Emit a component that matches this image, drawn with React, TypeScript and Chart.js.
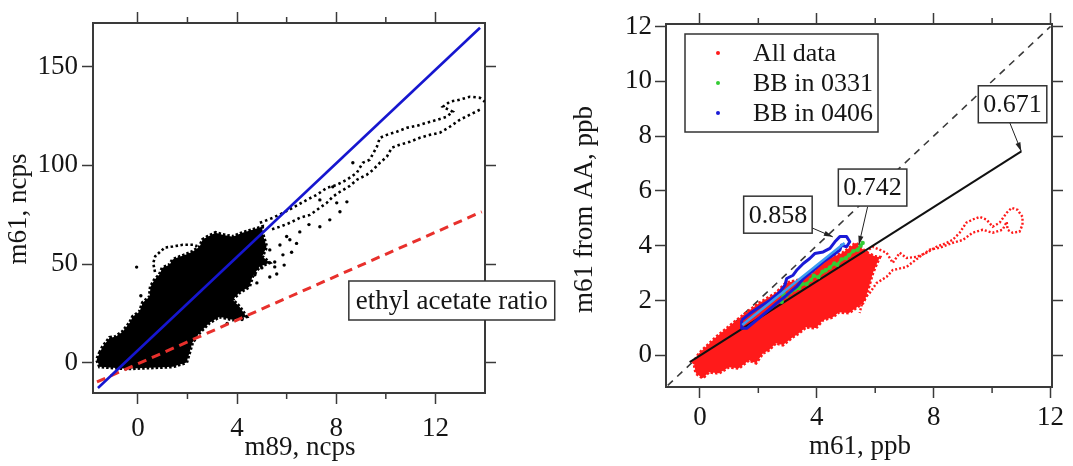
import React, { useEffect, useRef } from 'react';
import { Chart, registerables } from 'chart.js';
Chart.register(...registerables);

// ================= LEFT PANEL DATA =================
const leftXMajor = [0, 4, 8, 12];
const leftXMinor = [2, 6, 10];
const leftYMajor = [0, 50, 100, 150];
const leftXRange = [-1.81, 14.0];
const leftYRange = [-15.2, 172];

// dense black cloud (outline of the saturated region)
const blobX = [-1.54, -1.42, -1.14, -0.90, -0.62, -0.33, -0.21, 0.07, 0.19, 0.47, 0.51, 0.67, 0.87, 0.99, 1.28, 1.40, 1.60, 1.92, 2.20, 2.49, 2.61, 2.81, 3.13, 3.41, 3.82, 4.22, 4.62, 5.02, 5.02, 5.19, 5.02, 5.31, 4.91, 4.62, 4.50, 4.10, 3.82, 4.10, 4.38, 3.82, 3.29, 2.89, 2.49, 2.20, 2.08, 1.96, 1.40, 0.47, -0.46, -1.54, -1.66, -1.54];
const blobY = [5.2, 8.2, 12.8, 13.3, 15.8, 20.4, 23.4, 26.0, 30.5, 33.5, 38.6, 42.1, 44.7, 48.2, 49.7, 52.3, 53.3, 54.8, 56.3, 58.8, 62.4, 63.9, 65.9, 64.9, 63.9, 65.9, 67.4, 68.9, 65.9, 58.8, 53.8, 50.7, 48.7, 43.7, 38.6, 35.6, 32.0, 28.5, 23.4, 21.9, 23.4, 20.4, 15.3, 10.3, 5.2, 0.2, -1.9, -2.4, -2.9, -1.9, 1.7, 5.2];

// sparse dotted trails
const upperTrailX = [4.92, 5.44, 5.85, 6.25, 6.81, 7.22, 7.62, 8.02, 8.43, 8.83, 9.07, 9.35, 9.64, 9.76, 10.04, 10.44, 10.85, 11.25, 11.65, 12.06, 12.46, 12.70, 12.30, 12.58, 12.98, 13.39, 13.79, 13.99];
const upperTrailY = [70.9, 73.4, 75.9, 78.5, 82.5, 85.1, 88.6, 90.1, 92.7, 96.2, 101.3, 102.8, 109.4, 113.9, 115.4, 117.0, 119.0, 120.0, 121.5, 123.0, 124.6, 127.1, 129.6, 132.2, 133.2, 134.7, 134.2, 132.2];
const lowerTrailX = [13.79, 13.39, 12.98, 12.58, 12.18, 11.77, 11.37, 10.97, 10.56, 10.24, 10.04, 9.76, 9.48, 9.23, 8.83, 8.55, 8.15, 7.86, 7.62, 7.34, 6.94, 6.53, 6.13, 5.73, 5.32];
const lowerTrailY = [128.1, 125.6, 123.0, 119.5, 116.5, 115.4, 113.9, 111.9, 110.4, 108.9, 104.3, 101.3, 97.7, 95.2, 92.7, 89.6, 86.6, 84.1, 81.0, 78.5, 74.9, 73.4, 70.9, 68.9, 67.3];
const loopTrailX = [0.69, 0.62, 0.70, 0.93, 1.09, 1.41, 1.81, 2.22, 2.40];
const loopTrailY = [46.0, 50.5, 54.0, 56.6, 58.4, 58.9, 59.8, 59.8, 59.0];
const scatterX = [8.43, 8.15, 7.74, 7.34, 6.53, 6.13, 5.73, 5.85, 5.52, 5.32, 5.0, 4.72, 5.52, 5.32, 7.34, 7.86, 8.67, 8.02, 6.0, 6.4, 6.9, 5.9, 6.2, 5.6, 4.8, 3.6, 4.2, 0.12, -0.05, 1.3];
const scatterY = [81.5, 76.5, 72.4, 68.9, 66.3, 62.3, 59.7, 54.7, 51.1, 57.2, 48.1, 44.6, 48.6, 43.5, 82.5, 89.1, 101.3, 81.0, 64.0, 60.5, 70.0, 49.5, 56.0, 45.0, 40.5, 20.0, 22.0, 34.0, 48.5, 44.0];

const fitLineX = [-1.61, 13.8];
const fitLineY = [-12.7, 169.6];
const ratioLineX = [-1.65, 13.87];
const ratioLineY = [-9.6, 76.5];

const leftBoxText = 'ethyl acetate ratio';
const leftBoxX = 12.66;
const leftBoxY = 31.6;

// ================= RIGHT PANEL DATA =================
const rightXMajor = [0, 4, 8, 12];
const rightXMinor = [2, 6, 10];
const rightYMajor = [0, 2, 4, 6, 8, 10, 12];
const rightXRange = [-1.16, 12.05];
const rightYRange = [-1.16, 12.09];

const redBlobX = [-0.25, -0.03, 0.55, 1.13, 1.57, 2.02, 2.6, 2.94, 3.38, 3.86, 4.31, 4.89, 5.33, 5.68, 6.0, 6.16, 6.06, 5.92, 5.82, 5.68, 5.58, 5.34, 5.10, 4.76, 4.55, 4.21, 3.97, 3.63, 3.39, 3.18, 2.84, 2.60, 2.36, 2.16, 1.92, 1.68, 1.33, 0.99, 0.65, 0.31, 0.10, -0.14, -0.21, -0.25];
const redBlobY = [-0.3, 0.07, 0.66, 1.17, 1.54, 1.9, 2.27, 2.64, 2.75, 3.0, 3.48, 3.74, 4.1, 3.77, 3.6, 3.58, 3.36, 3.0, 2.63, 2.12, 1.90, 1.72, 1.54, 1.57, 1.39, 1.28, 0.99, 1.02, 0.80, 0.66, 0.37, 0.44, 0.18, 0.07, -0.29, -0.18, -0.48, -0.44, -0.66, -0.62, -0.84, -0.66, -0.26, -0.3];
const redTrailX = [5.37, 5.91, 6.39, 6.6, 6.84, 7.07, 7.42, 7.76, 8.1, 8.44, 8.65, 8.89, 9.12, 9.33, 9.57, 9.81, 10.02, 10.26, 10.5, 10.67, 10.87, 11.04, 11.04, 10.94, 10.7, 10.53, 10.5, 10.36, 10.02, 9.68, 9.33, 9.0, 8.65, 8.2, 7.86, 7.52, 7.07, 6.6, 6.39, 6.05, 5.81, 5.57, 5.47];
const redTrailY = [3.48, 3.96, 3.74, 3.37, 3.74, 3.55, 3.59, 3.74, 3.96, 4.1, 4.21, 4.47, 4.84, 4.95, 5.05, 4.95, 4.69, 4.84, 5.2, 5.38, 5.31, 5.05, 4.76, 4.51, 4.47, 4.58, 4.87, 4.58, 4.47, 4.58, 4.47, 4.21, 4.1, 3.92, 3.85, 3.59, 3.22, 3.11, 2.86, 2.64, 2.27, 2.01, 1.54];

const blueX = [1.43, 1.71, 2.05, 2.40, 2.74, 2.91, 2.97, 3.19, 3.31, 3.54, 3.76, 3.93, 4.22, 4.45, 4.62, 4.79, 5.02, 5.13, 5.02, 4.85, 4.79, 4.56, 4.22, 3.88, 3.54, 3.31, 2.97, 2.62, 2.28, 1.94, 1.60, 1.43, 1.43];
const blueY = [1.28, 1.52, 1.77, 2.01, 2.31, 2.56, 2.80, 2.92, 3.10, 3.35, 3.53, 3.71, 3.77, 3.90, 4.14, 4.33, 4.33, 4.14, 3.96, 4.02, 3.84, 3.66, 3.41, 3.10, 2.80, 2.50, 2.19, 1.89, 1.58, 1.28, 0.98, 0.98, 1.28];
const greenX = [2.8, 2.85, 2.95, 3.1, 3.25, 3.4, 3.5, 3.65, 3.8, 3.9, 4.05, 4.2, 4.3, 4.45, 4.6, 4.7, 4.85, 5.0, 5.1, 5.25, 5.4, 5.5, 5.57];
const greenY = [1.95, 2.3, 2.15, 2.3, 2.4, 2.45, 2.6, 2.6, 2.75, 2.9, 2.85, 3.05, 3.1, 3.2, 3.35, 3.3, 3.5, 3.55, 3.65, 3.8, 3.85, 4.0, 4.1];

const fitAllX = [-0.35, 11.0];
const fitAllY = [-0.25, 7.44];
const fit0406X = [1.45, 4.95];
const fit0406Y = [1.1, 4.1];
const oneToOneX = [-1.1, 12.0];
const oneToOneY = [-1.1, 12.0];

const legendLabels = ['All data', 'BB in 0331', 'BB in 0406'];
const legendColors = ['#ff1a1a', '#33cc33', '#1a1ad6'];

const slopeLabels = ['0.671', '0.742', '0.858'];
const slopeBoxX = [10.7, 5.91, 2.67];
const slopeBoxY = [9.16, 6.12, 5.13];
const slopeArrowFromX = [10.6, 5.74, 3.83];
const slopeArrowFromY = [8.5, 5.42, 4.65];
const slopeArrowToX = [11.0, 5.44, 4.55];
const slopeArrowToY = [7.44, 4.03, 4.32];

// ================= HELPERS =================
const FONT = "'Liberation Serif', 'Times New Roman', serif";
const AXIS = '#3a3a3a';
const TXT = '#151515';

const pts = (xs: number[], ys: number[]) => xs.map((x, i) => ({ x, y: ys[i] }));

function makeScale(position: string, range: number[], majors: number[], size: number, labels: boolean, pad: number) {
  return {
    type: 'linear',
    position,
    min: range[0],
    max: range[1],
    afterBuildTicks: (s: any) => { s.ticks = majors.map((v) => ({ value: v })); },
    afterFit: (s: any) => { if (position === 'top' || position === 'bottom') s.height = size; else s.width = size; },
    grid: { drawOnChartArea: false, drawTicks: true, tickLength: 11, tickWidth: 1.5, tickColor: AXIS },
    border: { display: true, color: AXIS, width: 2 },
    ticks: {
      font: { family: FONT, size: 27 },
      color: TXT,
      padding: pad,
      maxRotation: 0,
      autoSkip: false,
      callback: (v: any) => (labels ? String(v) : ''),
    },
  };
}

function arrow(ctx: CanvasRenderingContext2D, x1: number, y1: number, x2: number, y2: number) {
  ctx.save();
  ctx.strokeStyle = '#222';
  ctx.fillStyle = '#222';
  ctx.lineWidth = 1;
  ctx.beginPath(); ctx.moveTo(x1, y1); ctx.lineTo(x2, y2); ctx.stroke();
  const a = Math.atan2(y2 - y1, x2 - x1);
  const L = 9, W = 2.6;
  ctx.beginPath();
  ctx.moveTo(x2, y2);
  ctx.lineTo(x2 - L * Math.cos(a) + W * Math.sin(a), y2 - L * Math.sin(a) - W * Math.cos(a));
  ctx.lineTo(x2 - L * Math.cos(a) - W * Math.sin(a), y2 - L * Math.sin(a) + W * Math.cos(a));
  ctx.closePath(); ctx.fill();
  ctx.restore();
}

function labelBox(ctx: CanvasRenderingContext2D, text: string, cx: number, cy: number, size: number, padX: number, h: number) {
  ctx.save();
  ctx.font = `${size}px ${FONT}`;
  const w = ctx.measureText(text).width + 2 * padX;
  ctx.fillStyle = '#fff';
  ctx.fillRect(cx - w / 2, cy - h / 2, w, h);
  ctx.strokeStyle = '#333';
  ctx.lineWidth = 1.5;
  ctx.strokeRect(cx - w / 2, cy - h / 2, w, h);
  ctx.fillStyle = TXT;
  ctx.textAlign = 'center';
  ctx.textBaseline = 'middle';
  ctx.fillText(text, cx, cy + 1);
  ctx.restore();
}

function drawMinor(chart: any, xMinor: number[]) {
  const ctx = chart.ctx as CanvasRenderingContext2D;
  const ca = chart.chartArea;
  const sx = chart.scales.x;
  ctx.save();
  ctx.strokeStyle = AXIS;
  ctx.lineWidth = 1.5;
  xMinor.forEach((v) => {
    const px = sx.getPixelForValue(v);
    ctx.beginPath(); ctx.moveTo(px, ca.bottom); ctx.lineTo(px, ca.bottom + 6); ctx.stroke();
    ctx.beginPath(); ctx.moveTo(px, ca.top); ctx.lineTo(px, ca.top - 6); ctx.stroke();
  });
  ctx.restore();
}

function drawTitle(ctx: CanvasRenderingContext2D, text: string, x: number, y: number, rot: boolean) {
  ctx.save();
  ctx.font = `27px ${FONT}`;
  ctx.fillStyle = TXT;
  ctx.textAlign = 'center';
  ctx.textBaseline = 'middle';
  ctx.translate(x, y);
  if (rot) ctx.rotate(-Math.PI / 2);
  ctx.fillText(text, 0, 0);
  ctx.restore();
}

const baseOptions = {
  responsive: false,
  animation: false,
  events: [],
  layout: { padding: 0 },
  plugins: { legend: { display: false }, tooltip: { enabled: false }, title: { display: false } },
};

const dotted = (c: string, w: number, dash: number[]) => ({ showLine: true, fill: false, borderColor: c, borderWidth: w, borderDash: dash, pointRadius: 0 });

// ================= LEFT CHART =================
// NB: Chart.js paints dataset 0 last (on top), so datasets are listed top-first.
function leftConfig(): any {
  const decor = {
    id: 'leftDecor',
    afterDraw(chart: any) {
      const ctx = chart.ctx as CanvasRenderingContext2D;
      const ca = chart.chartArea;
      drawMinor(chart, leftXMinor);
      const sx = chart.scales.x, sy = chart.scales.y;
      labelBox(ctx, leftBoxText, sx.getPixelForValue(leftBoxX), sy.getPixelForValue(leftBoxY), 27, 7, 39);
      drawTitle(ctx, 'm89, ncps', (ca.left + ca.right) / 2 + 11, ca.bottom + 55, false);
      drawTitle(ctx, 'm61, ncps', ca.left - 74, (ca.top + ca.bottom) / 2 + 1, true);
    },
  };
  return {
    type: 'scatter',
    data: {
      datasets: [
        { data: pts(fitLineX, fitLineY), showLine: true, fill: false, borderColor: '#1616cf', borderWidth: 2.6, pointRadius: 0 },
        { data: pts(ratioLineX, ratioLineY), ...dotted('#e8302c', 3, [9, 6]) },
        { data: pts(scatterX, scatterY), showLine: false, pointRadius: 1.7, pointBackgroundColor: '#000', pointBorderWidth: 0 },
        { data: pts(loopTrailX, loopTrailY), ...dotted('#000', 2.6, [2.5, 2.5]) },
        { data: pts(upperTrailX, upperTrailY), ...dotted('#000', 2.6, [2.5, 3]) },
        { data: pts(lowerTrailX, lowerTrailY), ...dotted('#000', 2.6, [2.5, 3]) },
        { data: pts(blobX, blobY), showLine: true, fill: 'shape', backgroundColor: '#000', borderColor: '#000', borderWidth: 3.5, borderDash: [2.5, 2], pointRadius: 0, tension: 0 },
      ],
    },
    options: {
      ...baseOptions,
      scales: {
        x: makeScale('bottom', leftXRange, leftXMajor, 73, true, 9),
        xTop: makeScale('top', leftXRange, leftXMajor, 23, false, 0),
        y: makeScale('left', leftYRange, leftYMajor, 93, true, 4),
        yRight: makeScale('right', leftYRange, leftYMajor, 85, false, 0),
      },
    },
    plugins: [decor],
  };
}

// ================= RIGHT CHART =================
function rightConfig(): any {
  const decor = {
    id: 'rightDecor',
    afterDraw(chart: any) {
      const ctx = chart.ctx as CanvasRenderingContext2D;
      const ca = chart.chartArea;
      drawMinor(chart, rightXMinor);
      const sx = chart.scales.x, sy = chart.scales.y;
      slopeLabels.forEach((t, i) => {
        arrow(ctx, sx.getPixelForValue(slopeArrowFromX[i]), sy.getPixelForValue(slopeArrowFromY[i]), sx.getPixelForValue(slopeArrowToX[i]), sy.getPixelForValue(slopeArrowToY[i]));
      });
      slopeLabels.forEach((t, i) => {
        labelBox(ctx, t, sx.getPixelForValue(slopeBoxX[i]), sy.getPixelForValue(slopeBoxY[i]), 26, 5, 37);
      });
      ctx.save();
      const lx = ca.left + 19, ly = ca.top + 10;
      ctx.fillStyle = '#fff';
      ctx.fillRect(lx, ly, 193, 98);
      ctx.strokeStyle = '#333';
      ctx.lineWidth = 1.5;
      ctx.strokeRect(lx, ly, 193, 98);
      ctx.font = `26px ${FONT}`;
      ctx.textBaseline = 'middle';
      ctx.textAlign = 'left';
      legendLabels.forEach((lab, i) => {
        const yy = ly + 19 + i * 30;
        ctx.fillStyle = legendColors[i];
        ctx.beginPath(); ctx.arc(lx + 33, yy, 2, 0, Math.PI * 2); ctx.fill();
        ctx.fillStyle = TXT;
        ctx.fillText(lab, lx + 68, yy + 1);
      });
      ctx.restore();
      drawTitle(ctx, 'm61, ppb', (ca.left + ca.right) / 2 + 1, ca.bottom + 60, false);
      drawTitle(ctx, 'm61 from AA, ppb', ca.left - 81, (ca.top + ca.bottom) / 2 + 4, true);
    },
  };
  return {
    type: 'scatter',
    data: {
      datasets: [
        { data: pts(fit0406X, fit0406Y), showLine: true, fill: false, borderColor: '#3d9cf0', borderWidth: 2.6, pointRadius: 0 },
        { data: pts(blueX, blueY), showLine: true, fill: false, borderColor: '#1a1ad6', borderWidth: 3, pointRadius: 0, borderJoinStyle: 'round' },
        { data: pts(greenX, greenY), showLine: true, fill: false, borderColor: '#33cc33', borderWidth: 2.5, pointRadius: 2.2, pointBackgroundColor: '#33cc33', pointBorderWidth: 0 },
        { data: pts(fitAllX, fitAllY), showLine: true, fill: false, borderColor: '#111', borderWidth: 2, pointRadius: 0 },
        { data: pts(redTrailX, redTrailY), ...dotted('#ff1a1a', 2.4, [2, 2]) },
        { data: pts(redBlobX, redBlobY), showLine: true, fill: 'shape', backgroundColor: '#ff1a1a', borderColor: '#ff1a1a', borderWidth: 3, borderDash: [2.5, 2], pointRadius: 0, tension: 0 },
        { data: pts(oneToOneX, oneToOneY), ...dotted('#3a3a3a', 1.6, [7, 6]) },
      ],
    },
    options: {
      ...baseOptions,
      scales: {
        x: makeScale('bottom', rightXRange, rightXMajor, 79, true, 4),
        xTop: makeScale('top', rightXRange, rightXMajor, 24, false, 0),
        y: makeScale('left', rightYRange, rightYMajor, 96, true, 3),
        yRight: makeScale('right', rightYRange, rightYMajor, 58, false, 0),
      },
    },
    plugins: [decor],
  };
}

function Panel({ make, left, width }: { make: () => any; left: number; width: number }) {
  const ref = useRef<HTMLCanvasElement>(null);
  useEffect(() => {
    const chart = new Chart(ref.current as HTMLCanvasElement, make());
    return () => chart.destroy();
  }, []);
  return (
    <canvas
      ref={ref}
      width={width}
      height={466}
      style={{ position: 'absolute', left, top: 0, width, height: 466 }}
    />
  );
}

export default function App() {
  return (
    <div style={{ position: 'absolute', left: 0, top: 0, width: 1073, height: 466, overflow: 'hidden', background: '#fff' }}>
      <Panel make={leftConfig} left={0} width={570} />
      <Panel make={rightConfig} left={570} width={540} />
    </div>
  );
}
